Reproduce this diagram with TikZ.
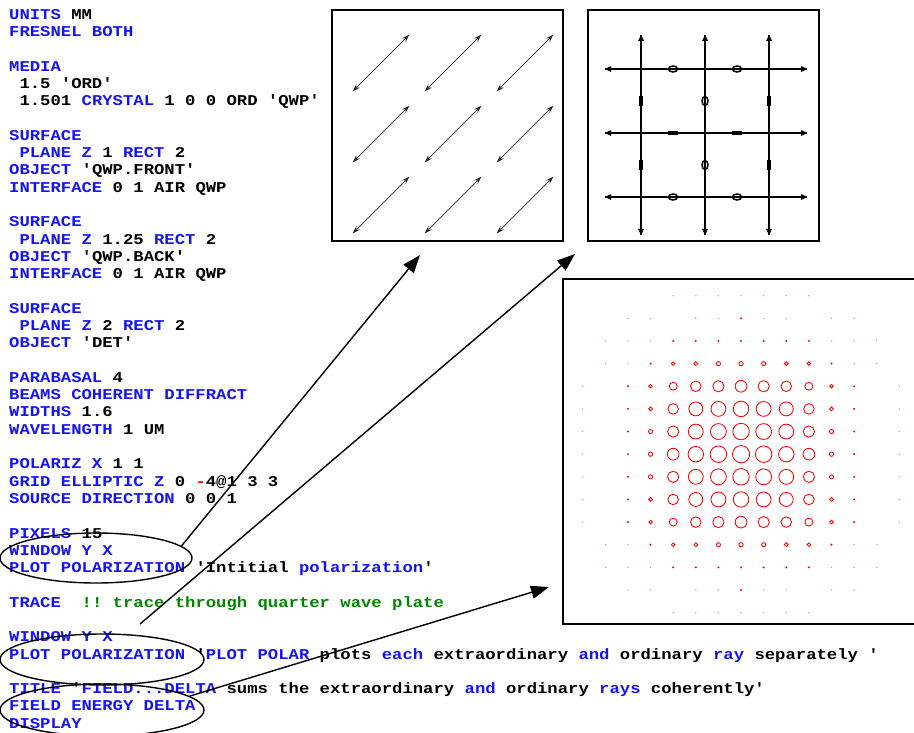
\documentclass[tikz,border=0pt]{standalone}
\usepackage{fontspec}
\setmonofont{Liberation Mono}[FakeStretch=1.15]
\usetikzlibrary{arrows.meta,shapes.geometric}
\definecolor{kwblue}{RGB}{20,20,245}
\definecolor{cmtgreen}{RGB}{0,135,0}
\definecolor{plotred}{RGB}{255,0,0}
\newcommand\kw[1]{\textcolor{kwblue}{#1}}
\newcommand\cmtx[1]{\textcolor{cmtgreen}{#1}}
\def\gtab{{1,0.96,0.9,0.68,0.25,0.1,0.06,0.05}}
\begin{document}
\begin{tikzpicture}[x=1pt,y=-1pt,
  codeline/.style={anchor=base west,inner sep=0pt,font=\ttfamily\bfseries\fontsize{15}{17}\selectfont},
  frame/.style={draw=black,line width=2pt},
  polarrow/.style={draw=black!70,line width=0.9pt,
    {Stealth[length=8pt,width=5pt,fill=black!35,color=black!85]}-{Stealth[length=8pt,width=5pt,fill=black!35,color=black!85]}},
  gridln/.style={draw=black,line width=1.3pt},
  loop/.style={draw,ellipse,line width=1.4pt,inner sep=0pt},
  conn/.style={draw,line width=1.4pt,-{Triangle[length=18pt,width=13pt]}}]
\clip (0,0) rectangle (914,733);
\fill[white] (0,0) rectangle (914,733);

% ---- input deck ----
\node[codeline] (c00) at (9,{19.3+17.29*0}) {\kw{UNITS} MM};
\node[codeline] (c01) at (9,{19.3+17.29*1}) {\kw{FRESNEL BOTH}};
\node[codeline] (c03) at (9,{19.3+17.29*3}) {\kw{MEDIA}};
\node[codeline] (c04) at (19.35,{19.3+17.29*4}) {1.5 'ORD'};
\node[codeline] (c05) at (19.35,{19.3+17.29*5}) {1.501 \kw{CRYSTAL} 1 0 0 ORD 'QWP'};
\node[codeline] (c07) at (9,{19.3+17.29*7}) {\kw{SURFACE}};
\node[codeline] (c08) at (19.35,{19.3+17.29*8}) {\kw{PLANE Z} 1 \kw{RECT} 2};
\node[codeline] (c09) at (9,{19.3+17.29*9}) {\kw{OBJECT} 'QWP.FRONT'};
\node[codeline] (c10) at (9,{19.3+17.29*10}) {\kw{INTERFACE} 0 1 AIR QWP};
\node[codeline] (c12) at (9,{19.3+17.29*12}) {\kw{SURFACE}};
\node[codeline] (c13) at (19.35,{19.3+17.29*13}) {\kw{PLANE Z} 1.25 \kw{RECT} 2};
\node[codeline] (c14) at (9,{19.3+17.29*14}) {\kw{OBJECT} 'QWP.BACK'};
\node[codeline] (c15) at (9,{19.3+17.29*15}) {\kw{INTERFACE} 0 1 AIR QWP};
\node[codeline] (c17) at (9,{19.3+17.29*17}) {\kw{SURFACE}};
\node[codeline] (c18) at (19.35,{19.3+17.29*18}) {\kw{PLANE Z} 2 \kw{RECT} 2};
\node[codeline] (c19) at (9,{19.3+17.29*19}) {\kw{OBJECT} 'DET'};
\node[codeline] (c21) at (9,{19.3+17.29*21}) {\kw{PARABASAL} 4};
\node[codeline] (c22) at (9,{19.3+17.29*22}) {\kw{BEAMS COHERENT DIFFRACT}};
\node[codeline] (c23) at (9,{19.3+17.29*23}) {\kw{WIDTHS} 1.6};
\node[codeline] (c24) at (9,{19.3+17.29*24}) {\kw{WAVELENGTH} 1 UM};
\node[codeline] (c26) at (9,{19.3+17.29*26}) {\kw{POLARIZ X} 1 1};
\node[codeline] (c27) at (9,{19.3+17.29*27}) {\kw{GRID ELLIPTIC Z} 0 \textcolor{plotred}{-}4@1 3 3};
\node[codeline] (c28) at (9,{19.3+17.29*28}) {\kw{SOURCE DIRECTION} 0 0 1};
\node[codeline] (c30) at (9,{19.3+17.29*30}) {\kw{PIXELS} 15};
\node[codeline] (c31) at (9,{19.3+17.29*31}) {\kw{WINDOW Y X}};
\node[codeline] (c32) at (9,{19.3+17.29*32}) {\kw{PLOT POLARIZATION} 'Intitial \kw{polarization}'};
\node[codeline] (c34) at (9,{19.3+17.29*34}) {\kw{TRACE}~ \cmtx{!! trace through quarter wave plate}};
\node[codeline] (c36) at (9,{19.3+17.29*36}) {\kw{WINDOW Y X}};
\node[codeline] (c37) at (9,{19.3+17.29*37}) {\kw{PLOT POLARIZATION} '\kw{PLOT POLAR} plots \kw{each} extraordinary \kw{and} ordinary \kw{ray} separately '};
\node[codeline] (c39) at (9,{19.3+17.29*39}) {\kw{TITLE} '\kw{FIELD...DELTA} sums the extraordinary \kw{and} ordinary \kw{rays} coherently'};
\node[codeline] (c40) at (9,{19.3+17.29*40}) {\kw{FIELD ENERGY DELTA}};
\node[codeline] (c41) at (9,{19.3+17.29*41}) {\kw{DISPLAY}};

% ---- initial polarization plot ----
\draw[frame] (332,10) rectangle (563,241);
\foreach \cx in {381,453,525}
  \foreach \cy in {63,134,205}
    \draw[polarrow] ({\cx-28.5},{\cy+28.5}) -- ({\cx+28.5},{\cy-28.5});

% ---- polarization after the plate ----
\draw[frame] (587.5,10) rectangle (818.5,241);
\foreach \yy in {69,133,197} {
  \draw[gridln] (605,\yy) -- (807,\yy);
  \fill (605,\yy) -- ++(6,-3) -- ++(0,6) -- cycle;
  \fill (807,\yy) -- ++(-6,-3) -- ++(0,6) -- cycle;
}
\foreach \xx in {641,705,769} {
  \draw[gridln] (\xx,35) -- (\xx,235);
  \fill (\xx,35) -- ++(-3,6) -- ++(6,0) -- cycle;
  \fill (\xx,235) -- ++(-3,-6) -- ++(6,0) -- cycle;
}
\foreach \xx in {673,737} {
  \draw[line width=1.5pt] (\xx,69) ellipse (4.5 and 3);
  \draw[line width=1.5pt] (\xx,197) ellipse (4.5 and 3);
  \fill (\xx-5,130.8) rectangle (\xx+5,135.2);
}
\foreach \yy in {101,165} {
  \fill (638.8,\yy-5) rectangle (643.2,\yy+5);
  \fill (766.8,\yy-5) rectangle (771.2,\yy+5);
  \draw[line width=1.5pt] (705,\yy) ellipse (3 and 4.5);
}

% ---- coherent field energy ----
\draw[frame] (930,279) -- (563,279) -- (563,624) -- (930,624);
\foreach \i in {0,...,14} {
  \foreach \j in {0,...,14} {
    \pgfmathtruncatemacro\aa{abs(\i-7)}
    \pgfmathtruncatemacro\bb{abs(\j-7)}
    \pgfmathtruncatemacro\shown{((\aa<=5)&&(\bb<=5)) || ((\aa==6)&&(\bb>=4)&&(\bb<=5)) || ((\bb==6)&&(\aa!=3)&&(\aa<=5)) || ((\aa==7)&&(\bb<=3)) || ((\bb==7)&&(\aa<=3))}
    \ifnum\shown=1
      \pgfmathsetmacro\rr{8.6*\gtab[\aa]*\gtab[\bb]}
      \pgfmathsetmacro\px{582.7+22.62*\i}
      \pgfmathsetmacro\py{295.7+22.64*\j}
      \ifdim\rr pt>1.2pt
        \pgfmathsetmacro\rc{max(\rr,1.8)}
        \draw[plotred,line width=0.85pt] (\px,\py) circle[radius=\rc];
      \else\ifdim\rr pt>0.5pt
        \fill[plotred] (\px,\py) circle[radius=1.1];
      \else
        \fill[plotred!50] (\px,\py) circle[radius=0.75];
      \fi\fi
    \fi
  }
}

% ---- callouts ----
\node[loop,minimum width=192pt,minimum height=50pt] (e1) at (96,558) {};
\node[loop,minimum width=204pt,minimum height=51pt] (e2) at (102,659.5) {};
\node[loop,minimum width=204pt,minimum height=52pt] (e3) at (102,710) {};
\coordinate (t1) at (420,255);
\coordinate (s2) at (140,624);
\coordinate (t2) at (575,254);
\coordinate (t3) at (549,587);
\draw[conn] (e1.8) -- (t1);
\draw[conn] (s2) -- (t2);
\draw[conn] (e3.9) -- (t3);
\end{tikzpicture}
\end{document}
